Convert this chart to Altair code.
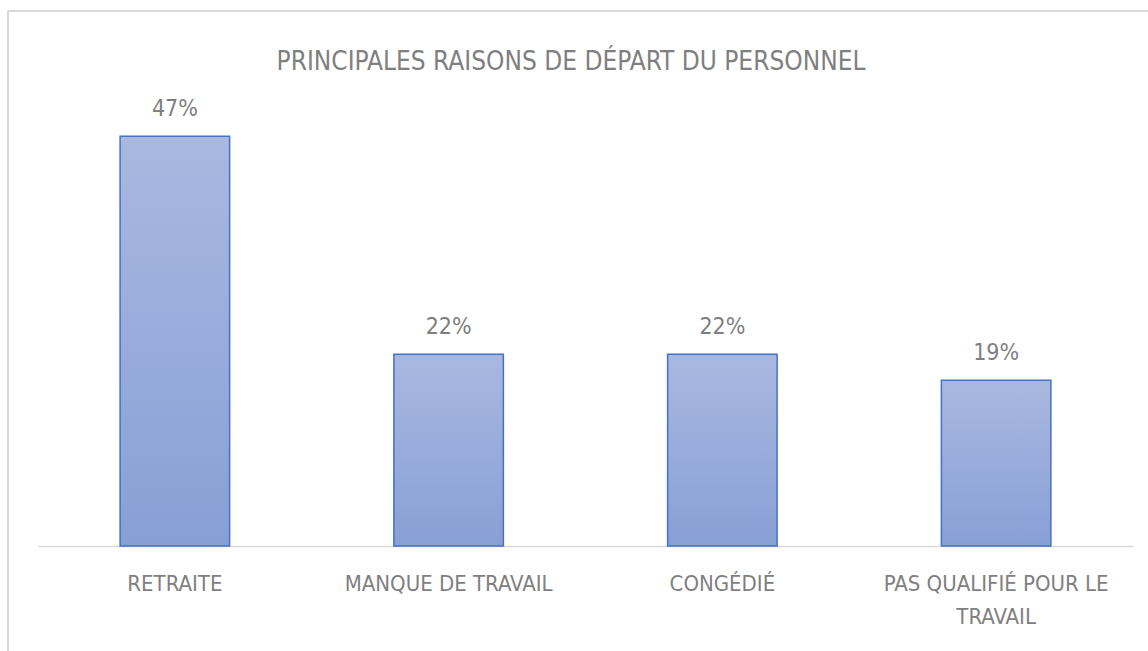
import altair as alt
import pandas as pd

categories = ["RETRAITE", "MANQUE DE TRAVAIL", "CONGÉDIÉ", "PAS QUALIFIÉ POUR LE TRAVAIL"]
values = [0.47, 0.22, 0.22, 0.19]
title_text = "PRINCIPALES RAISONS DE DÉPART DU PERSONNEL"

df = pd.DataFrame({"cat": categories, "val": values})

FONT = "'DejaVu Sans Condensed', 'Roboto Condensed', Roboto, sans-serif"
GREY = "#7f7f7f"

grad = alt.Gradient(
    gradient="linear",
    stops=[alt.GradientStop(color="#a9b8e0", offset=0),
           alt.GradientStop(color="#889fd6", offset=1)],
    x1=0, x2=0, y1=0, y2=1,
)

x = alt.X("cat:N", sort=categories, title=None,
          scale=alt.Scale(paddingInner=0.6, paddingOuter=0.3),
          axis=alt.Axis(labelAngle=0, labelFont=FONT, labelFontSize=22, labelColor=GREY,
                        labelPadding=27, ticks=False, domainColor="#d9d9d9", domainWidth=1.5,
                        labelLimit=400, labelLineHeight=33,
                        labelExpr="datum.label == 'PAS QUALIFIÉ POUR LE TRAVAIL' ? ['PAS QUALIFIÉ POUR LE', 'TRAVAIL'] : datum.label"))
y = alt.Y("val:Q", scale=alt.Scale(domain=[0, 0.5]), axis=None)

bars = alt.Chart(df).mark_bar(color=grad, stroke="#4472c4", strokeWidth=1.5).encode(x=x, y=y)
labels = alt.Chart(df).mark_text(font=FONT, fontSize=23, color=GREY, baseline="bottom", dy=-15).encode(
    x=alt.X("cat:N", sort=categories), y="val:Q", text=alt.Text("val:Q", format=".0%"))

one = pd.DataFrame({"t": [title_text]})
title = alt.Chart(one).mark_text(font=FONT, fontSize=26, color=GREY, baseline="alphabetic").encode(
    x=alt.value(533), y=alt.value(-40), text="t:N")
top_border = alt.Chart(one).mark_rule(color="#d9d9d9", strokeWidth=2).encode(
    x=alt.value(-30), x2=alt.value(1130), y=alt.value(-99))
left_border = alt.Chart(one).mark_rule(color="#d9d9d9", strokeWidth=2).encode(
    x=alt.value(-30), y=alt.value(-99), y2=alt.value(560))

chart = alt.layer(bars, labels, title, top_border, left_border).properties(
    width=1095, height=436,
    autosize=alt.AutoSizeParams(type="none"),
    padding={"left": 38, "top": 110, "right": 15, "bottom": 105},
).configure_view(stroke=None)

chart.save("out.html", embed_options={"renderer": "svg", "actions": False})
